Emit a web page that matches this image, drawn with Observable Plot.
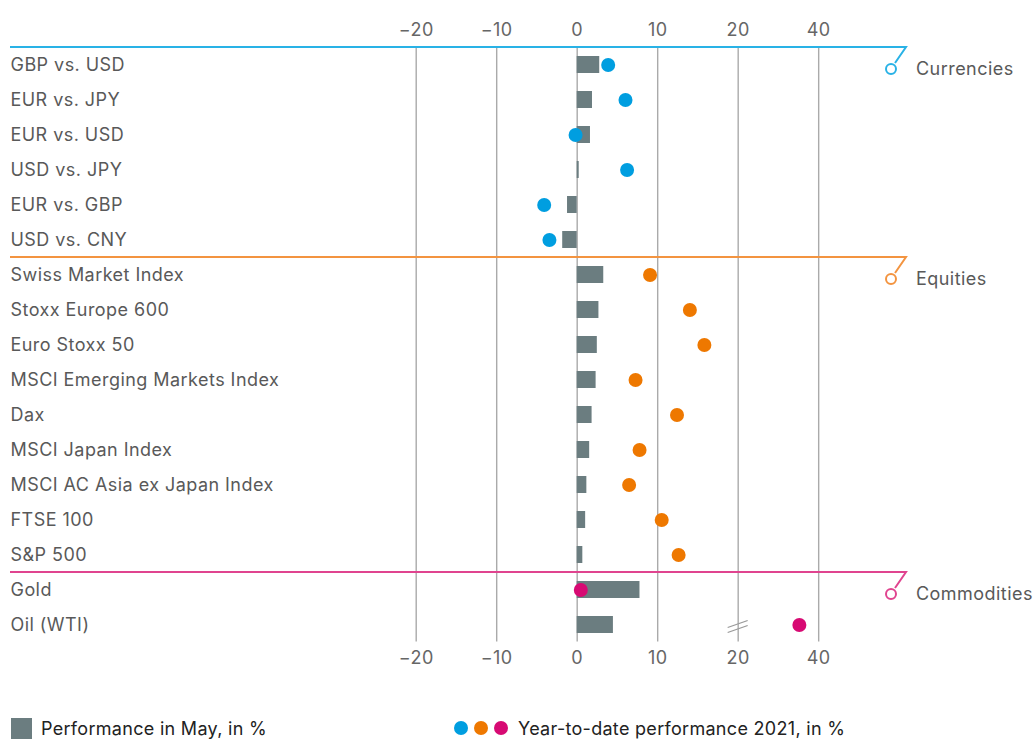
<!DOCTYPE html>
<html>
<head>
<meta charset="utf-8">
<script src="https://cdn.jsdelivr.net/npm/d3@7"></script>
<script src="https://cdn.jsdelivr.net/npm/@observablehq/plot@0.6"></script>
<style>
  body { margin: 0; background: #fff; font-family: Inter, Roboto, sans-serif; }
  #wrap { position: relative; width: 1036px; height: 741px; }
  #legend { position: absolute; left: 0; top: 716px; width: 1036px; height: 24px; font-size: 18px; letter-spacing: 0.3px; color: #222; }
  .lg { position: absolute; top: 0; display: flex; align-items: center; height: 24px; }
  .sw { width: 21px; height: 21px; background: #6b7d80; display: inline-block; margin-right: 9px; }
  .dt { width: 14px; height: 14px; border-radius: 50%; display: inline-block; margin-right: 6px; }
</style>
</head>
<body>
<div id="wrap">
  <div id="chart"></div>
  <div id="legend"></div>
</div>
<script>
// ---- data ----
const categories = [
  "GBP vs. USD", "EUR vs. JPY", "EUR vs. USD", "USD vs. JPY", "EUR vs. GBP", "USD vs. CNY",
  "Swiss Market Index", "Stoxx Europe 600", "Euro Stoxx 50", "MSCI Emerging Markets Index", "Dax",
  "MSCI Japan Index", "MSCI AC Asia ex Japan Index", "FTSE 100", "S&P 500",
  "Gold", "Oil (WTI)"
];
const groups = [
  "Currencies", "Currencies", "Currencies", "Currencies", "Currencies", "Currencies",
  "Equities", "Equities", "Equities", "Equities", "Equities", "Equities", "Equities", "Equities", "Equities",
  "Commodities", "Commodities"
];
const mayPerf = [2.8, 1.9, 1.65, 0.25, -1.2, -1.8, 3.3, 2.7, 2.5, 2.35, 1.85, 1.55, 1.2, 1.05, 0.7, 7.8, 4.5];
const ytdPerf = [3.85, 6.0, -0.2, 6.2, -4.1, -3.45, 9.05, 14.0, 15.8, 7.25, 12.4, 7.75, 6.45, 10.5, 12.6, 0.45, 35.2];
const tickValues = [-20, -10, 0, 10, 20, 40];
const sectionNames = ["Currencies", "Equities", "Commodities"];
const sectionLineColors = ["#29b2e6", "#f39440", "#e0448f"];
const sectionDotColors = ["#009ee0", "#ee7800", "#d70a73"];
const breakAt = 20;               // axis break: values above 20 are compressed by half
const legendBarLabel = "Performance in May, in %";
const legendDotLabel = "Year-to-date performance 2021, in %";

// ---- helpers ----
const brk = v => v > breakAt ? breakAt + (v - breakAt) / 2 : v;
const fmt = v => (v < 0 ? "\u2212" + Math.abs(v) : String(v));
const dotColor = g => sectionDotColors[sectionNames.indexOf(g)];
const rows = categories.map((name, i) => ({name, group: groups[i], may: mayPerf[i], ytd: ytdPerf[i]}));

const FONT = "Inter, Roboto, sans-serif";
const FS = 18;
const W = 1036, H = 690;
const plot = Plot.plot({
  width: W, height: H,
  marginLeft: 10, marginRight: 0, marginTop: 46.5, marginBottom: 48.5,
  style: {fontFamily: FONT, fontSize: FS + "px", background: "#fff", letterSpacing: "0.45px"},
  x: {domain: [-70.4, 57.06], axis: null},
  y: {domain: categories, padding: 0, axis: null},
  marks: [
    Plot.ruleX(tickValues, {x: brk, stroke: "#aaaaaa", strokeWidth: 1.4}),
    Plot.barX(rows, {x: "may", y: "name", fill: "#6b7d80", insetTop: 9, insetBottom: 9}),
    Plot.dot(rows, {x: d => brk(d.ytd), y: "name", r: 7, fill: d => dotColor(d.group)}),
    Plot.text(categories, {y: d => d, frameAnchor: "left", textAnchor: "start", fill: "#595959", fontSize: FS}),
    Plot.text(tickValues, {x: brk, frameAnchor: "top", dy: -24, text: fmt, fill: "#666", fontSize: FS}),
    Plot.text(tickValues, {x: brk, frameAnchor: "bottom", dy: 22, text: fmt, fill: "#666", fontSize: FS})
  ]
});
document.getElementById("chart").appendChild(plot);

// ---- decorations from the plot's own scales ----
const xs = plot.scale("x"), ys = plot.scale("y");
const bw = ys.bandwidth;
const svg = d3.select(plot);
const g = svg.append("g");
const lineEnd = 906, labelX = 916;
sectionNames.forEach((name, k) => {
  const first = categories[groups.indexOf(name)];
  const yTop = ys.apply(first);
  const c = sectionLineColors[k];
  g.append("path")
    .attr("d", `M10,${yTop}H${lineEnd}L${lineEnd - 11},${yTop + 16}`)
    .attr("fill", "none").attr("stroke", c).attr("stroke-width", 2);
  g.append("circle").attr("cx", lineEnd - 15).attr("cy", yTop + 22).attr("r", 5)
    .attr("fill", "#fff").attr("stroke", c).attr("stroke-width", 2);
  g.append("text").attr("x", labelX).attr("y", yTop + 22).attr("dy", "0.35em")
    .attr("text-anchor", "start")
    .attr("fill", "#595959").attr("font-size", FS).text(name);
});
// axis break marks on the last row at the break value
const bx = xs.apply(breakAt), by = ys.apply(categories[categories.length - 1]) + bw / 2 + 2;
[-2.5, 2.5].forEach(o => {
  g.append("line").attr("x1", bx - 10).attr("y1", by + o + 3.5).attr("x2", bx + 10).attr("y2", by + o - 3.5)
    .attr("stroke", "#999").attr("stroke-width", 1.3);
});

// ---- legend ----
const lg = document.getElementById("legend");
lg.innerHTML =
  `<div class="lg" style="left:11px"><span class="sw"></span>${legendBarLabel}</div>` +
  `<div class="lg" style="left:454px">` +
  sectionDotColors.map(c => `<span class="dt" style="background:${c}"></span>`).join("") +
  `<span style="margin-left:4px">${legendDotLabel}</span></div>`;
</script>
</body>
</html>
